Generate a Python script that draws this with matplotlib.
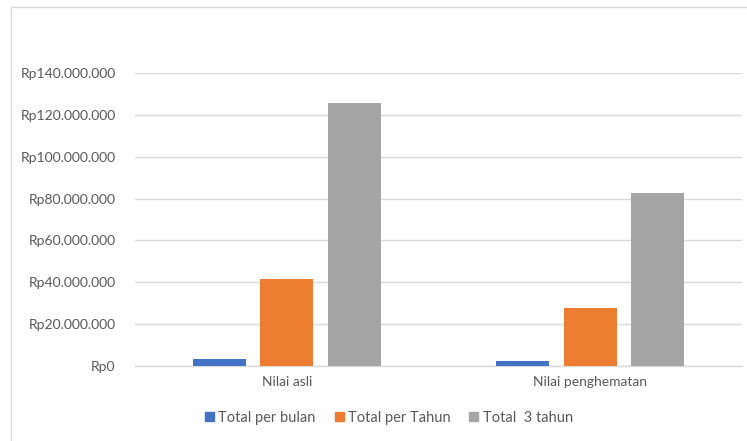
import matplotlib
matplotlib.use("Agg")
import matplotlib.pyplot as plt
from matplotlib.patches import Rectangle
from matplotlib.ticker import FuncFormatter, MultipleLocator
import numpy as np

categories = ["Nilai asli", "Nilai penghematan"]
series_names = ["Total per bulan", "Total per Tahun", "Total  3 tahun"]
per_bulan = [3500000, 2300000]
per_tahun = [41800000, 27600000]
tiga_tahun = [125600000, 82800000]
colors = ["#4472C4", "#ED7D31", "#A5A5A5"]

plt.rcParams['font.family'] = ['Lato', 'DejaVu Sans']

W, H = 747, 441
fig = plt.figure(figsize=(W/100, H/100), dpi=100)
# outer chart border
fig.patches.append(Rectangle((11/W, 0 - 0.05), 1.2, (H-7)/H + 0.05, transform=fig.transFigure,
                             fill=False, edgecolor="#D9D9D9", linewidth=1.0))
ax = fig.add_axes([135/W, 1-366/H, (742-135)/W, (366-73)/H])

x = np.arange(len(categories))
bw = 0.175
step = 0.222
for i, (vals, c, n) in enumerate(zip([per_bulan, per_tahun, tiga_tahun], colors, series_names)):
    ax.bar(x + (i-1)*step, vals, width=bw, color=c, label=n, zorder=3)

ax.set_xlim(-0.5, 1.5)
ax.set_ylim(0, 140000000)
ax.yaxis.set_major_locator(MultipleLocator(20000000))
ax.yaxis.set_major_formatter(FuncFormatter(lambda v, p: "Rp" + f"{int(round(v)):,}".replace(",", ".")))
ax.grid(axis='y', color="#D9D9D9", linewidth=1.0, zorder=0)
for s in ["top", "right", "left"]:
    ax.spines[s].set_visible(False)
ax.spines["bottom"].set_color("#D9D9D9")
ax.spines["bottom"].set_linewidth(1.0)
ax.set_xticks(x)
ax.set_xticklabels(categories)
ax.tick_params(axis='both', length=0, labelsize=10, colors="#595959", pad=8)
ax.tick_params(axis='y', pad=14)
ax.tick_params(axis='x', pad=7)

handles = [Rectangle((0, 0), 1, 1, color=c) for c in colors]
fig.legend(handles, series_names, loc='center', bbox_to_anchor=(389/W, 1-418/H), ncol=3,
           frameon=False, fontsize=10.5, labelcolor="#595959", handlelength=0.6, handleheight=0.6,
           handletextpad=0.3, columnspacing=1.3)

fig.savefig("out.png", dpi=100)
